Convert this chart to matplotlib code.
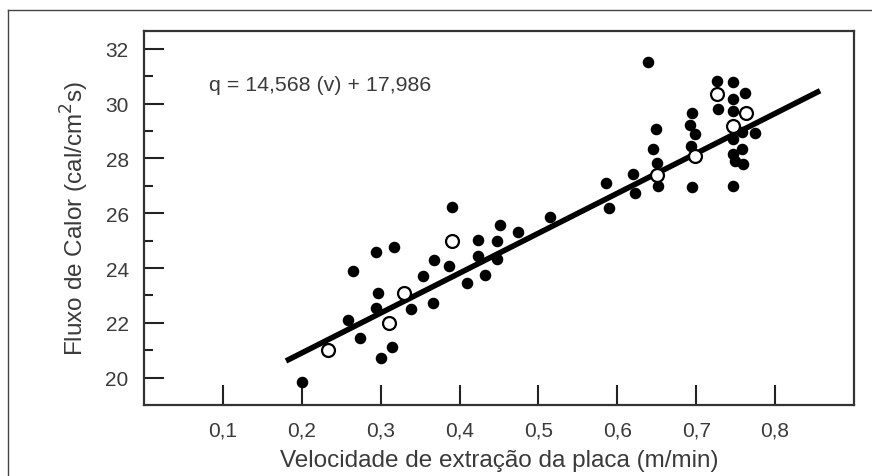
import numpy as np
import matplotlib
matplotlib.use("Agg")
import matplotlib.pyplot as plt
from matplotlib.lines import Line2D

plt.rcParams["font.family"] = ["Liberation Sans", "DejaVu Sans"]

# measured points (filled)
vel_filled = [0.200, 0.259, 0.265, 0.274, 0.294, 0.296, 0.294, 0.301, 0.314, 0.317,
              0.339, 0.354, 0.366, 0.367, 0.387, 0.391, 0.409, 0.423, 0.423, 0.432,
              0.447, 0.448, 0.451, 0.474, 0.515, 0.585, 0.590, 0.620, 0.622, 0.639,
              0.649, 0.645, 0.650, 0.651, 0.695, 0.692, 0.699, 0.694, 0.695, 0.726,
              0.728, 0.747, 0.762, 0.747, 0.747, 0.775, 0.758, 0.747, 0.758, 0.747,
              0.749, 0.759, 0.747]
flux_filled = [19.85, 22.11, 23.90, 21.45, 24.59, 23.09, 22.55, 20.72, 21.12, 24.77,
               22.51, 23.72, 22.73, 24.30, 24.08, 26.23, 23.46, 25.03, 24.45, 23.75,
               24.99, 24.34, 25.58, 25.32, 25.87, 27.10, 26.20, 27.44, 26.74, 31.53,
               29.08, 28.35, 27.84, 27.00, 29.66, 29.23, 28.90, 28.46, 26.95, 30.83,
               29.81, 30.80, 30.39, 30.15, 29.74, 28.93, 28.97, 28.72, 28.35, 28.17,
               27.91, 27.80, 27.00]

# mean values (open circles)
vel_mean = [0.233, 0.310, 0.330, 0.391, 0.650, 0.699, 0.726, 0.746, 0.763]
flux_mean = [21.01, 22.00, 23.09, 24.99, 27.40, 28.09, 30.36, 29.19, 29.66]

# fit q = a*v + b
coef_a = 14.568
coef_b = 17.986
fit_range = [0.18, 0.857]

xticks = [0.1, 0.2, 0.3, 0.4, 0.5, 0.6, 0.7, 0.8]
xticklabels = ["0,1", "0,2", "0,3", "0,4", "0,5", "0,6", "0,7", "0,8"]
yticks = [20, 22, 24, 26, 28, 30, 32]

txt = "#3a3a3a"
fig = plt.figure(figsize=(8.72, 4.77), dpi=100)
ax = fig.add_axes([144 / 872, 1 - 406 / 477, (854 - 144) / 872, (406 - 32) / 477])

vfit = np.array(fit_range)
ax.plot(vfit, coef_a * vfit + coef_b, color="black", lw=4.0, solid_capstyle="butt", zorder=2)
ax.plot(vel_filled, flux_filled, "o", ms=7.3, color="black", mec="black", zorder=3)
ax.plot(vel_mean, flux_mean, "o", ms=9.3, mfc="white", mec="black", mew=1.6, zorder=4)

ax.set_xlim(0, 0.9)
ax.set_ylim(19.0, 32.65)
ax.set_xticks(xticks)
ax.set_xticklabels(xticklabels)
ax.set_yticks(yticks)
ax.set_yticks([21, 23, 25, 27, 29, 31], minor=True)
ax.tick_params(which="major", direction="in", length=14.5, width=1.5, color="#222222",
               labelsize=15, labelcolor=txt, pad=11)
ax.tick_params(which="minor", direction="in", length=6.5, width=1.5, color="#222222")
ax.tick_params(axis="x", which="minor", bottom=False)
for s in ax.spines.values():
    s.set_linewidth(1.6)
    s.set_color("#333333")

ax.set_xlabel("Velocidade de extração da placa (m/min)", fontsize=17.5, color=txt, labelpad=7)
ax.set_ylabel("Fluxo de Calor (cal/cm$^2$s)", fontsize=17.5, color=txt, labelpad=10)
ax.text(0.083, 30.7, "q = 14,568 (v) + 17,986", fontsize=15.4, color=txt, va="center")

# outer frame (left and top edges)
fig.add_artist(Line2D([8 / 872, 8 / 872], [0, 1 - 11 / 477], color="#444444", lw=1.0))
fig.add_artist(Line2D([8 / 872, 1], [1 - 11 / 477, 1 - 11 / 477], color="#444444", lw=1.0))

fig.savefig("out.png", dpi=100)
